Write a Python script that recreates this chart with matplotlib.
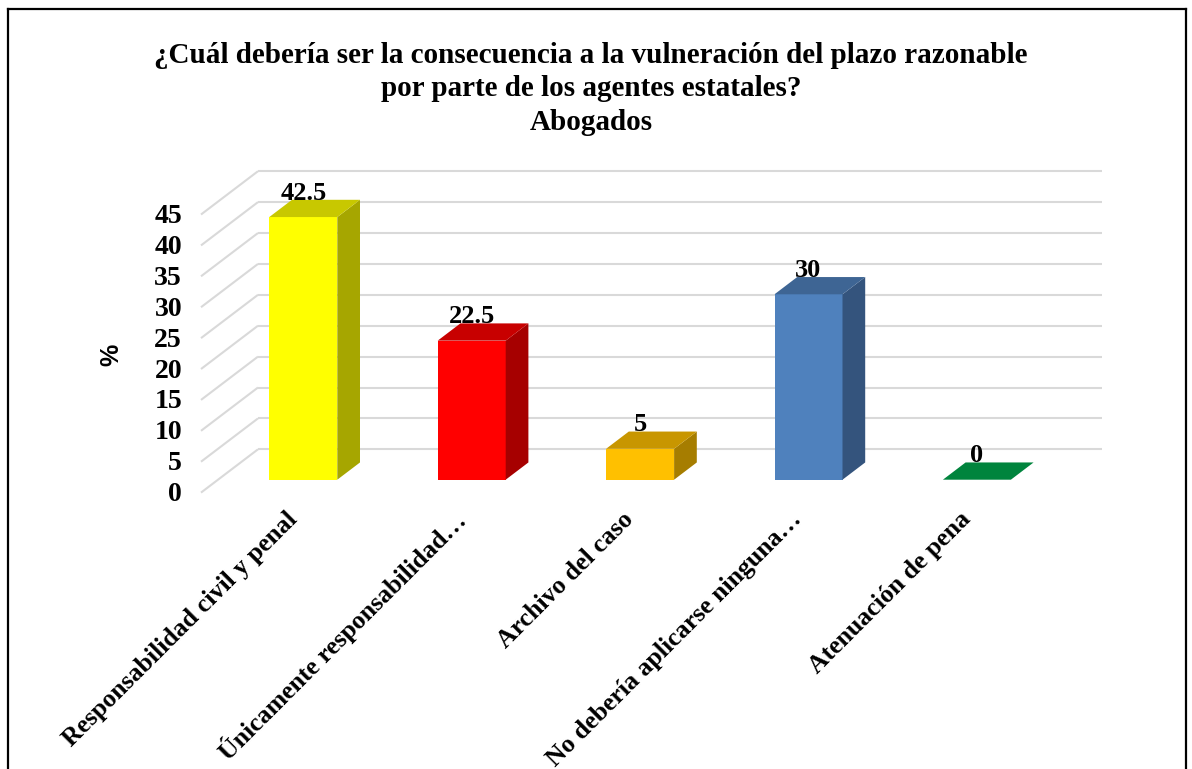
import matplotlib.pyplot as plt
from matplotlib.patches import Polygon
from matplotlib.lines import Line2D

# Data
categories = ["Responsabilidad civil y penal",
              "Únicamente responsabilidad…",
              "Archivo del caso",
              "No debería aplicarse ninguna…",
              "Atenuación de pena"]
values = [42.5, 22.5, 5, 30, 0]
value_labels = ["42.5", "22.5", "5", "30", "0"]
y_ticks = [0, 5, 10, 15, 20, 25, 30, 35, 40, 45]

front_colors = ["#FFFF00", "#FF0000", "#FFC000", "#4F81BD", "#00843D"]
side_colors = ["#A6A600", "#A60000", "#A67D00", "#34547D", "#00562A"]
top_colors = ["#C8C800", "#C80000", "#C89600", "#3E6594", "#00843D"]

title = ("¿Cuál debería ser la consecuencia a la vulneración del plazo razonable\n"
         "por parte de los agentes estatales?\nAbogados")

W, H = 1192, 769
PX_CAT = 168.4      # pixels per category step
PX_VAL = 6.18       # pixels per value unit
X0, Y0 = 303.3, 479.7   # pixel position of category 0, value 0 (bar front plane)
SLOPE = 0.76            # depth direction: up 0.76 px per px right

fig = plt.figure(figsize=(W / 100, H / 100), dpi=100)
ax = fig.add_axes([0, 0, 1, 1])
ax.set_xlim(-X0 / PX_CAT, (W - X0) / PX_CAT)
ax.set_ylim((Y0 - H) / PX_VAL, Y0 / PX_VAL)
ax.axis("off")


def off(d):
    # depth offset (in px along x) converted to data units
    return d / PX_CAT, SLOPE * d / PX_VAL


serif = "Liberation Serif"
grid_c = "#D9D9D9"

# walls: left side diagonal + back wall horizontal gridlines
left_x = (201 - X0) / PX_CAT
right_x = (1101.7 - X0) / PX_CAT
fx, fy = off(-17)
bx, by = off(40)
for t in y_ticks:
    ax.plot([left_x, left_x + (bx - fx)], [t + fy, t + by], color=grid_c, lw=1.5,
            solid_capstyle="butt", zorder=1)
    ax.plot([left_x + (bx - fx), right_x], [t + by, t + by], color=grid_c, lw=1.5,
            solid_capstyle="butt", zorder=1)
    ax.text((182 - X0) / PX_CAT, t + fy - 2 / PX_VAL, str(t), ha="right", va="center",
            fontsize=20, fontweight="bold", family=serif, zorder=3)

# bars
bw = 68 / PX_CAT
ddx, ddy = off(22.7)
for i, v in enumerate(values):
    l, r = i - bw / 2, i + bw / 2
    ax.add_patch(Polygon([(l, 0), (r, 0), (r, v), (l, v)], closed=True,
                         fc=front_colors[i], ec="none", zorder=2))
    ax.add_patch(Polygon([(r, 0), (r + ddx, ddy), (r + ddx, v + ddy), (r, v)], closed=True,
                         fc=side_colors[i], ec="none", zorder=2))
    ax.add_patch(Polygon([(l, v), (r, v), (r + ddx, v + ddy), (l + ddx, v + ddy)], closed=True,
                         fc=top_colors[i], ec="none", zorder=2))
    ax.text(i, v + 24 / PX_VAL, value_labels[i], ha="center", va="center",
            fontsize=19, fontweight="bold", family=serif, zorder=4)
    ax.text(i - 10 / PX_CAT, -36 / PX_VAL, categories[i], rotation=45, rotation_mode="anchor",
            ha="right", va="center", fontsize=18.5, fontweight="bold", family=serif, zorder=4)

fig.text(591 / W, 1 - 89 / H, title, ha="center", va="center", fontsize=21,
         fontweight="bold", family=serif, linespacing=1.3)
fig.text(111.7 / W, 1 - 355 / H, "%", rotation=90, ha="center", va="center",
         fontsize=18, fontweight="bold", family="Liberation Sans")

# outer frame (bottom edge cut off)
for xs, ys in [([8, 8], [H, 9]), ([8, 1186], [9, 9]), ([1186, 1186], [9, H])]:
    fig.add_artist(Line2D([x / W for x in xs], [1 - y / H for y in ys],
                          color="black", lw=1.6, transform=fig.transFigure))

fig.savefig("out.png", dpi=100)
